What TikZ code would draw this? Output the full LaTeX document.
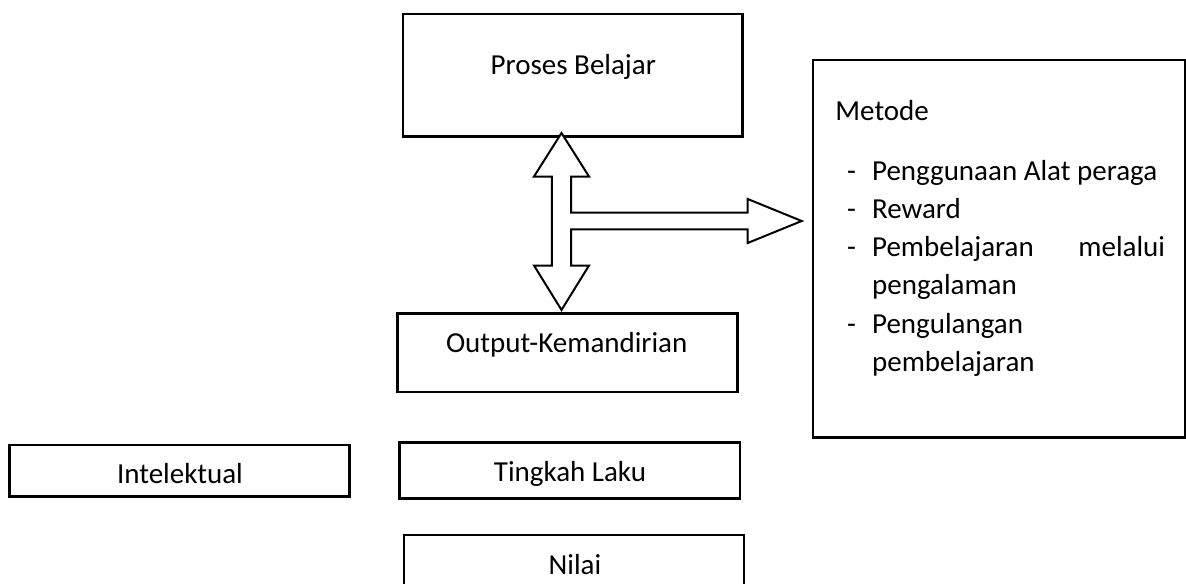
\documentclass[tikz,border=0pt]{standalone}
\usepackage{fontspec}
\setmainfont{Carlito}
\usetikzlibrary{positioning}

\begin{document}
\begin{tikzpicture}[x=0.5pt,y=-0.5pt,
  box/.style={draw,line width=1.2pt,inner sep=0pt},
  lbl/.style={anchor=base,inner sep=0pt},
  blockarrow/.style={draw,line width=1pt,line join=miter,fill=white},
  font=\fontsize{14.5pt}{19.15pt}\selectfont]

\clip (0,0) rectangle (1186,583);

\node[box,minimum width=169.85pt,minimum height=61.35pt] (proses) at (572.8,75.3) {};
	\node[box,minimum width=186pt,minimum height=188.75pt] (metode) at (999,248.75) {};
\node[box,minimum width=170pt,minimum height=39.2pt]   (output) at (567.3,352.5) {};
\node[box,minimum width=170pt,minimum height=25.85pt]  (intel)  at (179.3,470.8) {};
	\node[box,minimum width=170.35pt,minimum height=28pt] (tingkah) at (569.7,470.3) {};
\node[box,minimum width=170pt,minimum height=50pt]     (nilai)  at (574,585) {};

\node[lbl] (prosesT)  at (573.3,75)  {Proses Belajar};
\node[lbl] (outputT)  at (566.7,352.7) {Output-Kemandirian};
\node[lbl] (intelT)   at (180,483.3) {Intelektual};
\node[lbl] (tingkahT) at (570,481)   {Tingkah Laku};
\node[lbl] (nilaiT)   at (575,574.3) {Nilai};

\node[anchor=base west,inner sep=0pt] (metodeT) at (835,120) {Metode};
\node[anchor=base west,inner sep=0pt] (metodeL) at (846.7,180) {%
  \begin{tabular}[t]{@{}p{12.5pt}@{}p{146.5pt}@{}}
  - & Penggunaan Alat peraga\\
  - & Reward\\
  - & Pembelajaran\hfill melalui\\
    & pengalaman\\
  - & Pengulangan\\
    & pembelajaran
  \end{tabular}};

% block arrow between proses, output and metode
\coordinate (hub) at (561.5,221);
\draw[blockarrow,shift={(hub)}]
  (0,-88) -- (27.5,-44.5) -- (9.7,-44.5) -- (9.7,-8.3) -- (186.2,-8.3) -- (186.2,-22)
  -- (240.2,0) -- (186.2,22) -- (186.2,8.3) -- (9.7,8.3) -- (9.7,44.5) -- (27.5,44.5)
  -- (0,89) -- (-27.5,44.5) -- (-9.7,44.5) -- (-9.7,-44.5) -- (-27.5,-44.5) -- cycle;

\end{tikzpicture}
\end{document}
